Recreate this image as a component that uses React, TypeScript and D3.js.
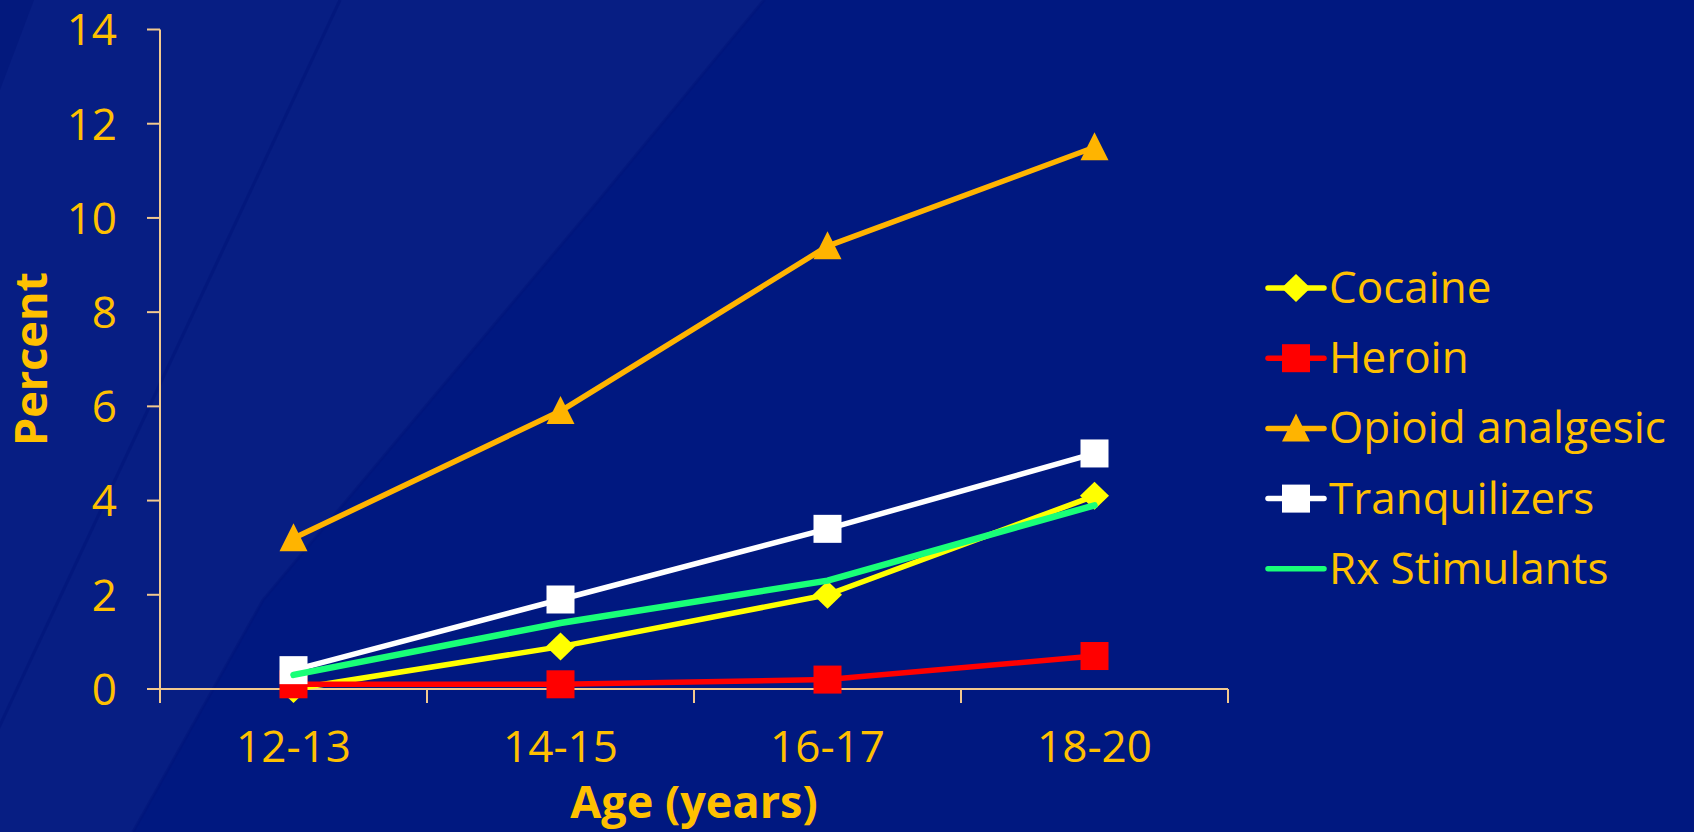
import React from "react";
import * as d3 from "d3";

const ageGroups = ["12-13", "14-15", "16-17", "18-20"];
const cocaine = [0.0, 0.9, 2.0, 4.1];
const heroin = [0.1, 0.1, 0.2, 0.7];
const opioidAnalgesic = [3.2, 5.9, 9.4, 11.5];
const tranquilizers = [0.4, 1.9, 3.4, 5.0];
const rxStimulants = [0.3, 1.4, 2.3, 3.9];
const yTicks = [0, 2, 4, 6, 8, 10, 12, 14];

type Marker = "diamond" | "square" | "triangle" | "none";
const series: { name: string; values: number[]; color: string; marker: Marker; width: number }[] = [
  { name: "Cocaine", values: cocaine, color: "#ffff00", marker: "diamond", width: 5.5 },
  { name: "Heroin", values: heroin, color: "#ff0000", marker: "square", width: 5.5 },
  { name: "Opioid analgesic", values: opioidAnalgesic, color: "#ffb400", marker: "triangle", width: 5.5 },
  { name: "Tranquilizers", values: tranquilizers, color: "#ffffff", marker: "square", width: 5.5 },
  { name: "Rx Stimulants", values: rxStimulants, color: "#19ff78", marker: "none", width: 6.5 },
];

const W = 1694;
const H = 832;
const gold = "#ffc000";
const axisColor = "#f2c98e";
const font = "'Open Sans', 'Noto Sans', sans-serif";

const x = d3.scaleBand<string>().domain(ageGroups).range([160, 1228]);
const y = d3.scaleLinear().domain([0, 14]).range([689, 29.5]);

function markerShape(kind: Marker, cx: number, cy: number, color: string, key: string) {
  if (kind === "diamond") {
    const p = d3.path();
    p.moveTo(cx, cy - 14);
    p.lineTo(cx + 14.5, cy);
    p.lineTo(cx, cy + 14);
    p.lineTo(cx - 14.5, cy);
    p.closePath();
    return <path key={key} d={p.toString()} fill={color} />;
  }
  if (kind === "square") {
    return <rect key={key} x={cx - 14} y={cy - 14} width={28} height={28} fill={color} />;
  }
  if (kind === "triangle") {
    const p = d3.path();
    p.moveTo(cx, cy - 15);
    p.lineTo(cx + 14, cy + 13);
    p.lineTo(cx - 14, cy + 13);
    p.closePath();
    return <path key={key} d={p.toString()} fill={color} />;
  }
  return null;
}

export default function App() {
  const line = d3
    .line<number>()
    .x((_, i) => (x(ageGroups[i]) as number) + x.bandwidth() / 2)
    .y((v) => y(v));

  const legendX0 = 1268;
  const legendX1 = 1324;
  const legendY = (i: number) => 288 + i * 70.2;

  return (
    <svg width={W} height={H} style={{ display: "block", position: "absolute", left: 0, top: 0 }}>
      <rect x={0} y={0} width={W} height={H} fill="#001880" />
      {/* faint diagonal light wedge across the left of the backdrop */}
      <polygon points="-10,0 764,0 599,200 263,600 133,832 -10,832" fill="#ffffff" opacity={0.028} />
      <polyline points="764,0 599,200 263,600 133,832" fill="none" stroke="#001478" strokeWidth={3} opacity={0.45} />
      <line x1={340} y1={0} x2={-50} y2={832} stroke="#001478" strokeWidth={3} opacity={0.5} />
      <polygon points="0,0 34,0 0,90" fill="#001478" opacity={0.5} />

      {/* y axis */}
      <line x1={160} x2={160} y1={y(14)} y2={y(0)} stroke={axisColor} strokeWidth={2} />
      {yTicks.map((t) => (
        <g key={t}>
          <line x1={147} x2={160} y1={y(t)} y2={y(t)} stroke={axisColor} strokeWidth={2} />
          <text x={117} y={y(t)} dy="0.36em" textAnchor="end" fill={gold} fontFamily={font} fontSize={44}>
            {t}
          </text>
        </g>
      ))}

      {/* x axis */}
      <line x1={147} x2={1228} y1={y(0)} y2={y(0)} stroke={axisColor} strokeWidth={2} />
      {[...ageGroups.map((g) => x(g) as number), 1228].map((tx, i) => (
        <line key={i} x1={tx} x2={tx} y1={y(0)} y2={y(0) + 14} stroke={axisColor} strokeWidth={2} />
      ))}
      {ageGroups.map((g) => (
        <text
          key={g}
          x={(x(g) as number) + x.bandwidth() / 2}
          y={762}
          textAnchor="middle"
          fill={gold}
          fontFamily={font}
          fontSize={44}
        >
          {g}
        </text>
      ))}

      {/* axis titles */}
      <text
        transform="translate(47,359) rotate(-90)"
        textAnchor="middle"
        fill={gold}
        fontFamily={font}
        fontWeight={700}
        fontSize={45}
      >
        Percent
      </text>
      <text x={694} y={818} textAnchor="middle" fill={gold} fontFamily={font} fontWeight={700} fontSize={45}>
        Age (years)
      </text>

      {/* series */}
      {series.map((s) => (
        <g key={s.name}>
          <path d={line(s.values) as string} fill="none" stroke={s.color} strokeWidth={s.width} strokeLinejoin="round" strokeLinecap="round" />
          {s.values.map((v, i) =>
            markerShape(s.marker, (x(ageGroups[i]) as number) + x.bandwidth() / 2, y(v), s.color, `${s.name}-${i}`)
          )}
        </g>
      ))}

      {/* legend */}
      {series.map((s, i) => (
        <g key={s.name}>
          <line x1={legendX0} x2={legendX1} y1={legendY(i)} y2={legendY(i)} stroke={s.color} strokeWidth={5.5} strokeLinecap="round" />
          {markerShape(s.marker, (legendX0 + legendX1) / 2, legendY(i), s.color, `lg-${i}`)}
          <text x={1329} y={legendY(i) + 15} fill={gold} fontFamily={font} fontSize={44}>
            {s.name}
          </text>
        </g>
      ))}
    </svg>
  );
}
